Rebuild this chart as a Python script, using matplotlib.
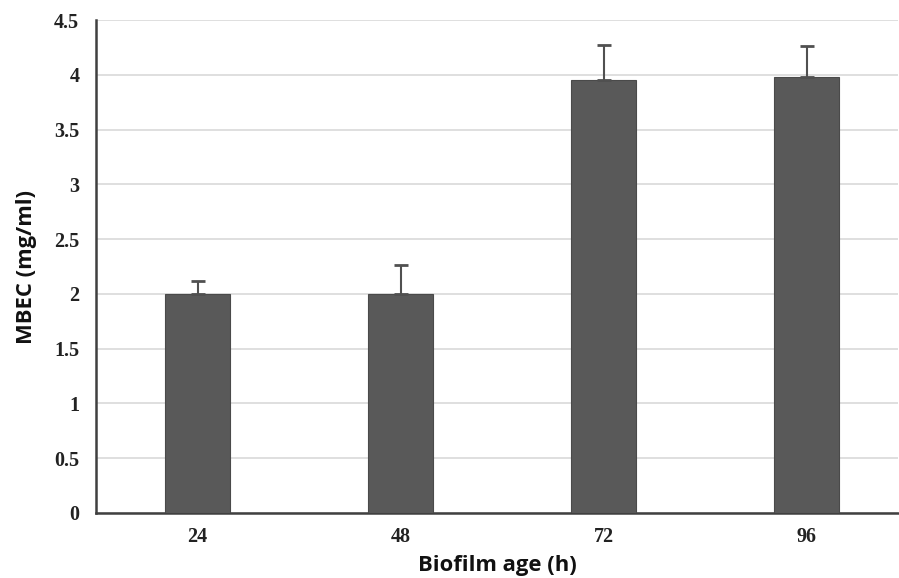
import matplotlib
matplotlib.use("Agg")
import matplotlib.pyplot as plt
import numpy as np

# data
ages = ["24", "48", "72", "96"]
mbec = [2.0, 2.0, 3.95, 3.98]
err = [0.12, 0.26, 0.32, 0.28]
yticks = [0, 0.5, 1, 1.5, 2, 2.5, 3, 3.5, 4, 4.5]
ytick_labels = ["0", "0.5", "1", "1.5", "2", "2.5", "3", "3.5", "4", "4.5"]

fig = plt.figure(figsize=(8.99, 5.78), dpi=100)
ax = fig.add_axes([96/899, 65/578, (898-96)/899, (513-20)/578])

x = np.arange(len(ages))
ax.bar(x, mbec, width=0.32, color="#595959", edgecolor="#4a4a4a", lw=0.8, zorder=3)
ax.errorbar(x, mbec, yerr=[np.zeros(len(err)), err], fmt="none",
            ecolor="#505050", elinewidth=1.5, capsize=5, capthick=2, zorder=4)

ax.set_xlim(-0.5, 3.45)
ax.set_ylim(0, 4.5)
ax.set_yticks(yticks)
ax.set_yticklabels(ytick_labels)
ax.set_xticks(x)
ax.set_xticklabels(ages)
ax.yaxis.grid(True, color="#d9d9d9", lw=1.2, zorder=0)
ax.set_axisbelow(True)

for s in ["top", "right"]:
    ax.spines[s].set_visible(False)
for s in ["left", "bottom"]:
    ax.spines[s].set_color("#404040")
    ax.spines[s].set_linewidth(1.8)
ax.tick_params(length=0, pad=12)
for lab in ax.get_xticklabels() + ax.get_yticklabels():
    lab.set_family("Liberation Serif")
    lab.set_fontweight("bold")
    lab.set_fontsize(14.5)
    lab.set_color("#222222")
ax.tick_params(axis="x", pad=10)

ax.set_xlabel("Biofilm age (h)", family="Open Sans", fontweight="bold",
              fontsize=15.8, color="#111111", labelpad=6)
ax.set_ylabel("MBEC (mg/ml)", family="Open Sans", fontweight="bold",
              fontsize=15.8, color="#111111", labelpad=12)

fig.savefig("out.png", dpi=100)
